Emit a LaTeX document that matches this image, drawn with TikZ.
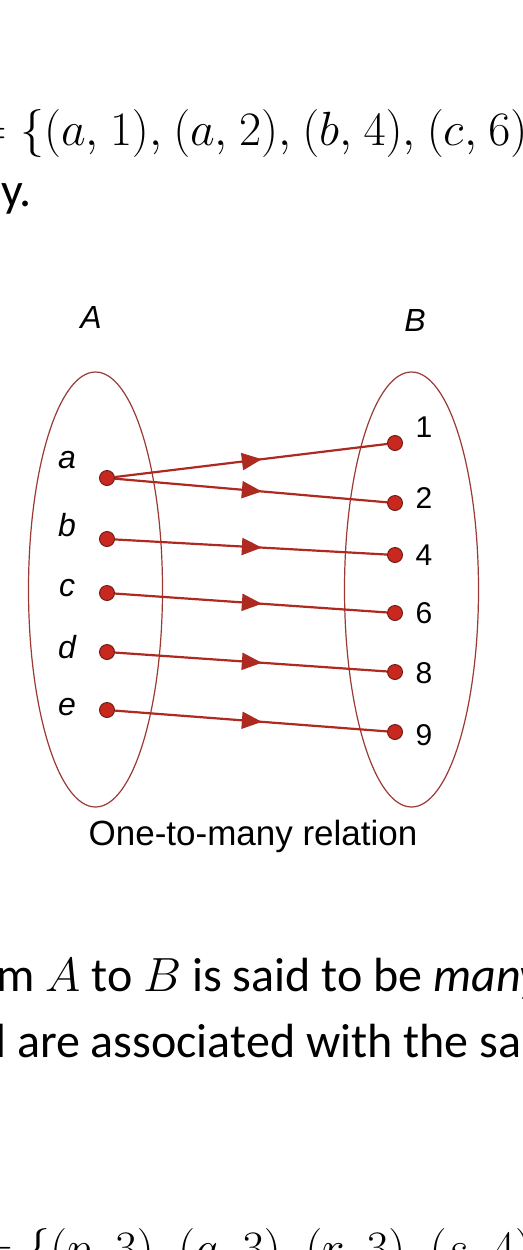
\RequirePackage{fix-cm}
\documentclass[tikz,border=0pt]{standalone}
\usepackage{fontspec}
\setmainfont{Carlito}
\newfontfamily\figfont{Liberation Sans}
\usepackage{tikz}
\usetikzlibrary{positioning, shapes.geometric, arrows.meta, decorations.markings}
\definecolor{relRed}{HTML}{AE2920}
\definecolor{relDot}{HTML}{C8281E}
\definecolor{relEdge}{HTML}{9B3A35}
\tikzset{
  elemdot/.style={
    circle, fill=relDot, draw=relRed!60!black, line width=0.9pt,
    minimum size=15pt, inner sep=0pt
  },
  setbox/.style={
    ellipse, draw=relEdge, line width=1.2pt,
    minimum width=134pt, minimum height=435pt, inner sep=0pt
  },
  maplink/.style={
    relRed, line width=2.2pt,
    postaction={decorate},
    decoration={markings, mark=at position 0.54 with {\arrow{Triangle[length=20pt, width=17pt]}}}
  },
  elem/.style={font=\figfont\itshape\fontsize{32}{36}\selectfont, inner sep=0pt},
  num/.style={font=\figfont\fontsize{30}{34}\selectfont, inner sep=0pt},
  caption/.style={font=\figfont\fontsize{35}{40}\selectfont, inner sep=0pt},
  bodytext/.style={anchor=base west, inner sep=0pt, font=\fontsize{48}{58}\selectfont}
}

\begin{document}
\begin{tikzpicture}[x=1pt, y=-1pt]
  \useasboundingbox (0,0) rectangle (522,1250);
  \fill[white] (0,0) rectangle (522,1250);
  \clip (0,0) rectangle (522,1250);

  % text around the figure
  \thinmuskip=4.2mu
  \node[bodytext] (pairsTop) at (-28,145) {$=\{(a,1),(a,2),(b,4),(c,6)$};
  \node[bodytext] (endTop) at (1,206) {y.};
  \node[bodytext] (lineOne) at (-4,991) {m $A$ to $B$ is said to be \textit{many}};
  \node[bodytext] (lineTwo) at (-5,1057) {l are associated with the same};
  \node[bodytext] (pairsBot) at (-22,1264) {$=\{(p,3),(q,3),(r,3),(s,4)$};

  % the two sets
  \node[setbox] (setA) at (95.5,589.5) {};
  \node[setbox] (setB) at (411.5,589.5) {};
  \node[elem] (nameA) at (91,317) {A};
  \node[elem] (nameB) at (415,320) {B};

  % elements of A
  \node[elemdot] (a) at (107,478) {};
  \node[elemdot] (b) at (107,539) {};
  \node[elemdot] (c) at (107,593) {};
  \node[elemdot] (d) at (107,652) {};
  \node[elemdot] (e) at (107,710) {};
  \node[elem] (la) at (67,460) {a};
  \node[elem] (lb) at (67,525) {b};
  \node[elem] (lc) at (67,588) {c};
  \node[elem] (ld) at (67,647) {d};
  \node[elem] (le) at (67,707) {e};

  % elements of B
  \node[elemdot] (n1) at (395,443) {};
  \node[elemdot] (n2) at (395,503) {};
  \node[elemdot] (n4) at (395,555) {};
  \node[elemdot] (n6) at (395,613) {};
  \node[elemdot] (n8) at (395,672) {};
  \node[elemdot] (n9) at (395,732) {};
  \node[num] (l1) at (424,427) {1};
  \node[num] (l2) at (424,498) {2};
  \node[num] (l4) at (424,555) {4};
  \node[num] (l6) at (424,613) {6};
  \node[num] (l8) at (424,673) {8};
  \node[num] (l9) at (424,735) {9};

  % the relation
  \draw[maplink] (a) -- (n1);
  \draw[maplink] (a) -- (n2);
  \draw[maplink] (b) -- (n4);
  \draw[maplink] (c) -- (n6);
  \draw[maplink] (d) -- (n8);
  \draw[maplink] (e) -- (n9);

  \node[caption] (capt) at (253,836) {One-to-many relation};
\end{tikzpicture}
\end{document}
